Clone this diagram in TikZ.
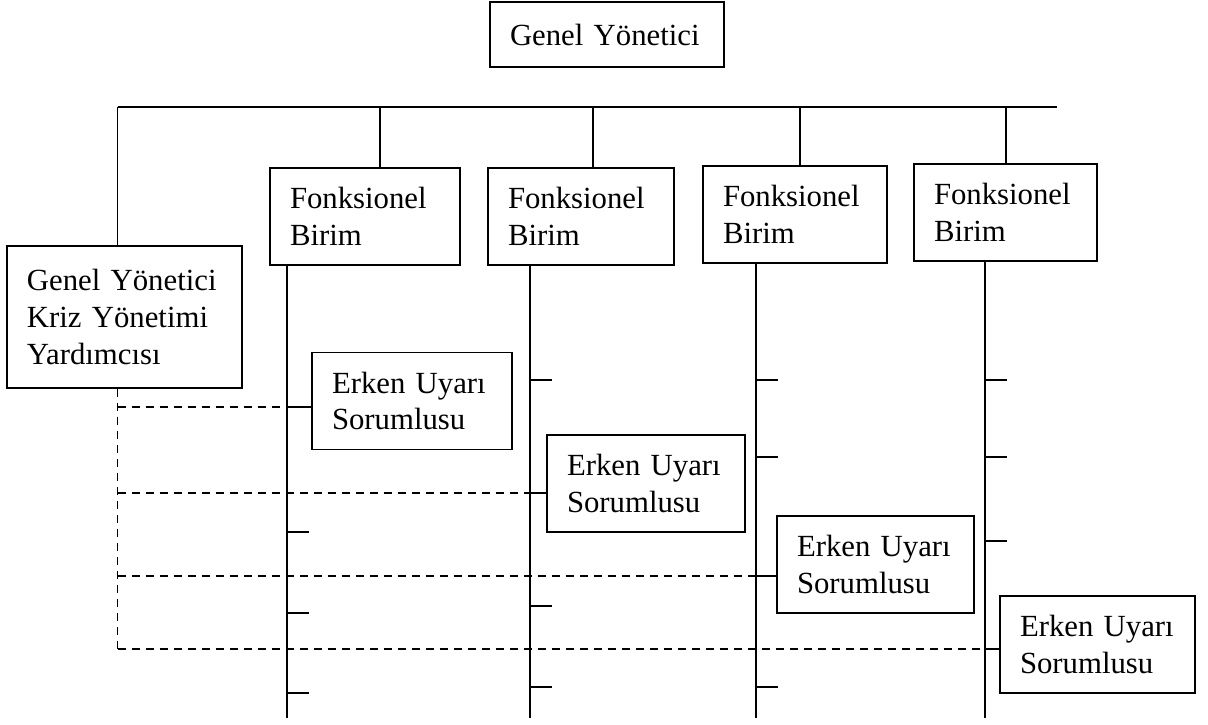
\documentclass[tikz,border=0pt]{standalone}
\usepackage{fontspec}
\setmainfont{Liberation Serif}
\usepackage{tikz}
\usetikzlibrary{arrows,positioning}
\tikzset{every node/.style={font=\fontsize{12.3}{14.7}\selectfont}}
\tikzset{kutu/.style={draw=black,line width=0.6pt,align=left,inner xsep=8pt,inner ysep=0pt,minimum height=38.8pt}}
\tikzset{kesik/.style={dash pattern=on 3.4pt off 2.2pt}}

\begin{document}
\begin{tikzpicture}[x=0.4pt,y=-0.4pt,line width=0.6pt]
\useasboundingbox (0,0) rectangle (1208,725);
% \draw[help lines] (0,0) grid (1208,725);
\node (gy) [kutu,text width=77.6pt,minimum height=26pt] at (607,34.5) {Genel Yönetici};
\node (kyy) [kutu,text width=78pt,minimum height=56.8pt] at (124.5,317) {Genel Yönetici\\Kriz Yönetimi\\Yardımcısı};
\node (fb1) [kutu,text width=60pt] at (365,216.5) {Fonksionel\\Birim};
\node (fb2) [kutu,text width=58.4pt] at (581,216.5) {Fonksionel\\Birim};
\node (fb3) [kutu,text width=57.6pt] at (795,214.5) {Fonksionel\\Birim};
\node (fb4) [kutu,text width=57.2pt] at (1005.5,212.5) {Fonksionel\\Birim};
\node (eu1) [kutu,text width=64pt] at (412,401) {Erken Uyarı\\Sorumlusu};
\node (eu2) [kutu,text width=63.2pt] at (646,483.5) {Erken Uyarı\\Sorumlusu};
\node (eu3) [kutu,text width=62.8pt] at (875.5,564.5) {Erken Uyarı\\Sorumlusu};
\node (eu4) [kutu,text width=62pt] at (1097.5,644.5) {Erken Uyarı\\Sorumlusu};
%
\coordinate (h0) at (117.5,107);
\coordinate (h5) at (1056.6,107);
\coordinate (d1) at (380,107);
\coordinate (d2) at (593,107);
\coordinate (d3) at (800,107);
\coordinate (d4) at (1006,107);
\coordinate (v1) at (287,718);
\coordinate (v2) at (530,718);
\coordinate (v3) at (756,718);
\coordinate (v4) at (985,718);
\coordinate (k1) at (117.5,407);
\coordinate (k2) at (117.5,493);
\coordinate (k3) at (117.5,576);
\coordinate (k4) at (117.5,649);
%
\path (h0) edge (h5);
\path (h0) edge (kyy.north -| h0);
\path (d1) edge (fb1.north -| d1);
\path (d2) edge (fb2.north -| d2);
\path (d3) edge (fb3.north -| d3);
\path (d4) edge (fb4.north -| d4);
%
\path (fb1.south -| v1) edge (v1);
\path (fb2.south -| v2) edge (v2);
\path (fb3.south -| v3) edge (v3);
\path (fb4.south -| v4) edge (v4);
%
\path (v1 |- k1) edge (eu1.west |- k1);
\path (v2 |- k2) edge (eu2.west |- k2);
\path (v3 |- k3) edge (eu3.west |- k3);
\path (v4 |- k4) edge (eu4.west |- k4);
%
\draw (287,532) -- ++(22,0);
\draw (287,613) -- ++(22,0);
\draw (287,693) -- ++(22,0);
\draw (530,380) -- ++(22,0);
\draw (530,606) -- ++(22,0);
\draw (530,687) -- ++(22,0);
\draw (756,380) -- ++(22,0);
\draw (756,457) -- ++(22,0);
\draw (756,687) -- ++(22,0);
\draw (985,380) -- ++(22,0);
\draw (985,457) -- ++(22,0);
\draw (985,541) -- ++(22,0);
%
\path[kesik] (kyy.south -| h0) edge (k4);
\path[kesik] (k1) edge (eu1.west |- k1);
\path[kesik] (k2) edge (eu2.west |- k2);
\path[kesik] (k3) edge (eu3.west |- k3);
\path[kesik] (k4) edge (eu4.west |- k4);
\end{tikzpicture}
\end{document}
